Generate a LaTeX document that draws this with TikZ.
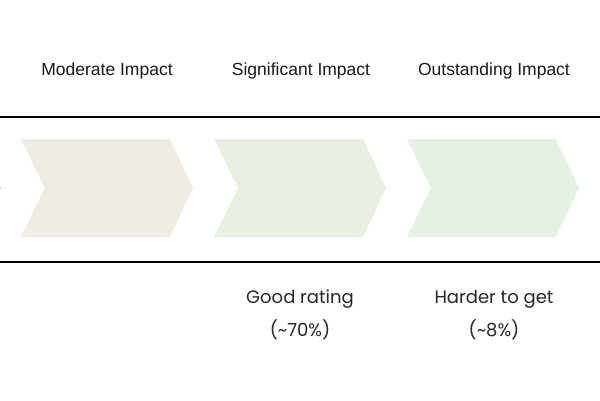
\documentclass[tikz,border=0pt]{standalone}
\usepackage{fontspec}
\setmainfont{Liberation Sans}
\newfontfamily\handfont{Poppins}
\definecolor{chevA}{RGB}{239,237,227}
\definecolor{chevB}{RGB}{233,239,226}
\definecolor{chevC}{RGB}{229,241,227}
\definecolor{chevO}{RGB}{244,210,190}
\tikzset{
  head/.style={font=\fontsize{17.5}{20}\selectfont, text=black!90, inner sep=0pt, anchor=center},
  note/.style={font=\handfont\fontsize{18}{21}\selectfont, text=black!85, inner sep=0pt, anchor=center},
  rule/.style={line width=2pt, black}
}
\begin{document}
\begin{tikzpicture}[x=1pt,y=-1pt]
\useasboundingbox (0,0) rectangle (600,400);
\fill[white] (0,0) rectangle (600,400);
% chevrons
\fill[chevO] (0,186) -- (1.2,188) -- (0,190) -- cycle;
\fill[chevA] (21,139) -- (170,139) -- (193,188) -- (170,237) -- (21,237) -- (45,188) -- cycle;
\fill[chevB] (214,139) -- (363,139) -- (386,188) -- (363,237) -- (214,237) -- (238,188) -- cycle;
\fill[chevC] (407,139) -- (556,139) -- (579,188) -- (556,237) -- (407,237) -- (431,188) -- cycle;
% rules
\coordinate (t1) at (0,117);
\coordinate (t2) at (600,117);
\coordinate (b1) at (0,262);
\coordinate (b2) at (600,262);
\draw[rule] (t1) -- (t2);
\draw[rule] (b1) -- (b2);
% headings
\node[head] (h1) at (107,71) {Moderate Impact};
\node[head] (h2) at (301,71) {Significant Impact};
\node[head] (h3) at (494,71) {Outstanding Impact};
% notes
\node[note] (n1) at (300,299) {Good rating};
\node[note] (n2) at (300,330) {(\textasciitilde 70\%)};
\node[note] (n3) at (494,299) {Harder to get};
\node[note] (n4) at (494,330) {(\textasciitilde 8\%)};
\end{tikzpicture}
\end{document}
